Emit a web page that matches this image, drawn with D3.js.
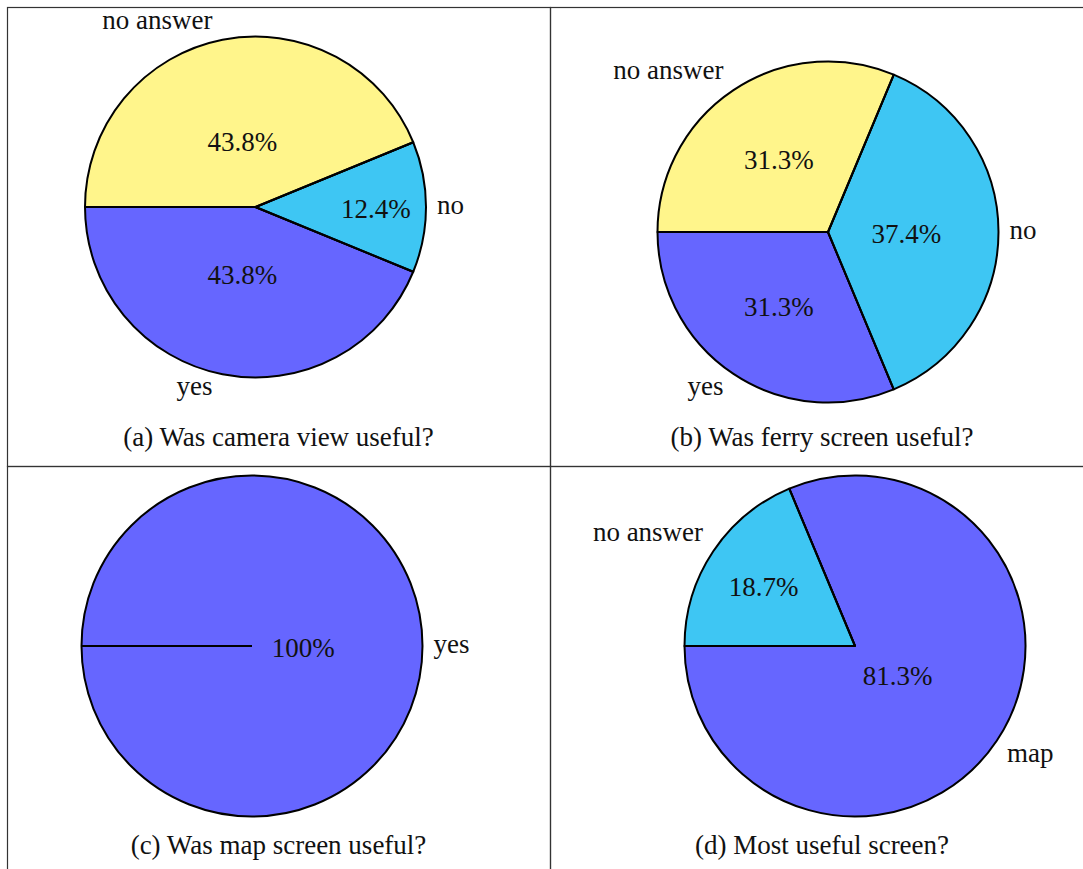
<!DOCTYPE html>
<html>
<head>
<meta charset="utf-8">
<script src="https://cdn.jsdelivr.net/npm/d3@7"></script>
<style>
  body { margin: 0; background: #fff; }
  text { font-family: "Liberation Serif", "Times New Roman", serif; font-size: 27px; fill: #111; }
</style>
</head>
<body>
<script>
// answers per question (percent)
var camLabels = ["yes", "no", "no answer"];
var camValues = [43.8, 12.4, 43.8];
var ferryLabels = ["yes", "no", "no answer"];
var ferryValues = [31.3, 37.4, 31.3];
var mapLabels = ["yes"];
var mapValues = [100];
var bestLabels = ["map", "no answer"];
var bestValues = [81.3, 18.7];
var captions = ["(a) Was camera view useful?", "(b) Was ferry screen useful?",
                "(c) Was map screen useful?", "(d) Most useful screen?"];
var sliceColors = ["#6666ff", "#3ec6f3", "#fff58b"];

var width = 1083, height = 869;

// where each pie sits on the page
var panels = [
  {labels: camLabels, values: camValues, cx: 255.5, cy: 207, capX: 278.5, capY: 446},
  {labels: ferryLabels, values: ferryValues, cx: 828, cy: 232, capX: 822, capY: 446},
  {labels: mapLabels, values: mapValues, cx: 252, cy: 646, capX: 278.5, capY: 854},
  {labels: bestLabels, values: bestValues, cx: 855, cy: 646, capX: 822, capY: 854}
];
var radius = 170.5;

var svg = d3.select("body").append("svg")
    .attr("width", width)
    .attr("height", height);

// table grid
var grid = svg.append("g").attr("fill", "none").attr("stroke", "#333").attr("stroke-width", 1.2);
[7.5, 466.5].forEach(function(y) {
  [7.5, 550.5].forEach(function(x) {
    grid.append("rect").attr("x", x).attr("y", y).attr("width", 543).attr("height", 459);
  });
});

// counter-clockwise from the left, like pgf-pie
var pie = d3.pie()
    .sort(null)
    .value(function(d) { return d.value; })
    .startAngle(-Math.PI / 2)
    .endAngle(-Math.PI / 2 - 2 * Math.PI);

var arc = d3.arc().innerRadius(0).outerRadius(radius);

function pointAt(a, r) {
  return [Math.sin(a) * r, -Math.cos(a) * r];
}

panels.forEach(function(p, k) {
  var data = p.labels.map(function(l, i) { return {label: l, value: p.values[i], idx: i}; });
  var slices = pie(data);
  var g = svg.append("g").attr("transform", "translate(" + p.cx + "," + p.cy + ")");

  g.selectAll("path.slice")
    .data(slices)
    .enter().append("path")
    .attr("class", "slice")
    .attr("d", arc)
    .attr("fill", function(d) { return sliceColors[d.data.idx]; })
    .attr("stroke", "#000")
    .attr("stroke-width", 2)
    .attr("stroke-linejoin", "round");

  // radial edge (also needed for the full circle)
  g.selectAll("line.edge")
    .data(slices)
    .enter().append("line")
    .attr("class", "edge")
    .attr("x1", 0).attr("y1", 0)
    .attr("x2", function(d) { return pointAt(d.startAngle, radius)[0]; })
    .attr("y2", function(d) { return pointAt(d.startAngle, radius)[1]; })
    .attr("stroke", "#000")
    .attr("stroke-width", 2);

  slices.forEach(function(s) {
    var mid = (s.startAngle + s.endAngle) / 2;
    var span = Math.abs(s.endAngle - s.startAngle) * 180 / Math.PI;
    var inner = Math.max(0.3, 0.8 - 0.3 * (span - 10) / 110);
    var pt = pointAt(mid, radius * inner);
    g.append("text")
      .attr("x", pt[0])
      .attr("y", pt[1] + 10.5)
      .attr("text-anchor", "middle")
      .text(s.data.value + "%");

    // outer label, anchored by quadrant
    var theta = Math.PI / 2 - mid;
    var c = Math.cos(theta), sn = Math.sin(theta), eps = 0.01;
    var op = pointAt(mid, radius);
    var x = op[0], y = op[1], anchor = "middle";
    if (c > eps) { anchor = "start"; x += 10; }
    else if (c < -eps) { anchor = "end"; x -= 10; }
    if (sn > eps) y -= 11;
    else if (sn < -eps) y += 21;
    else { y += 7; x += c > 0 ? 1 : -1; }
    g.append("text")
      .attr("x", x)
      .attr("y", y)
      .attr("text-anchor", anchor)
      .text(s.data.label);
  });

  svg.append("text")
    .attr("x", p.capX)
    .attr("y", p.capY)
    .attr("text-anchor", "middle")
    .text(captions[k]);
});
</script>
</body>
</html>
